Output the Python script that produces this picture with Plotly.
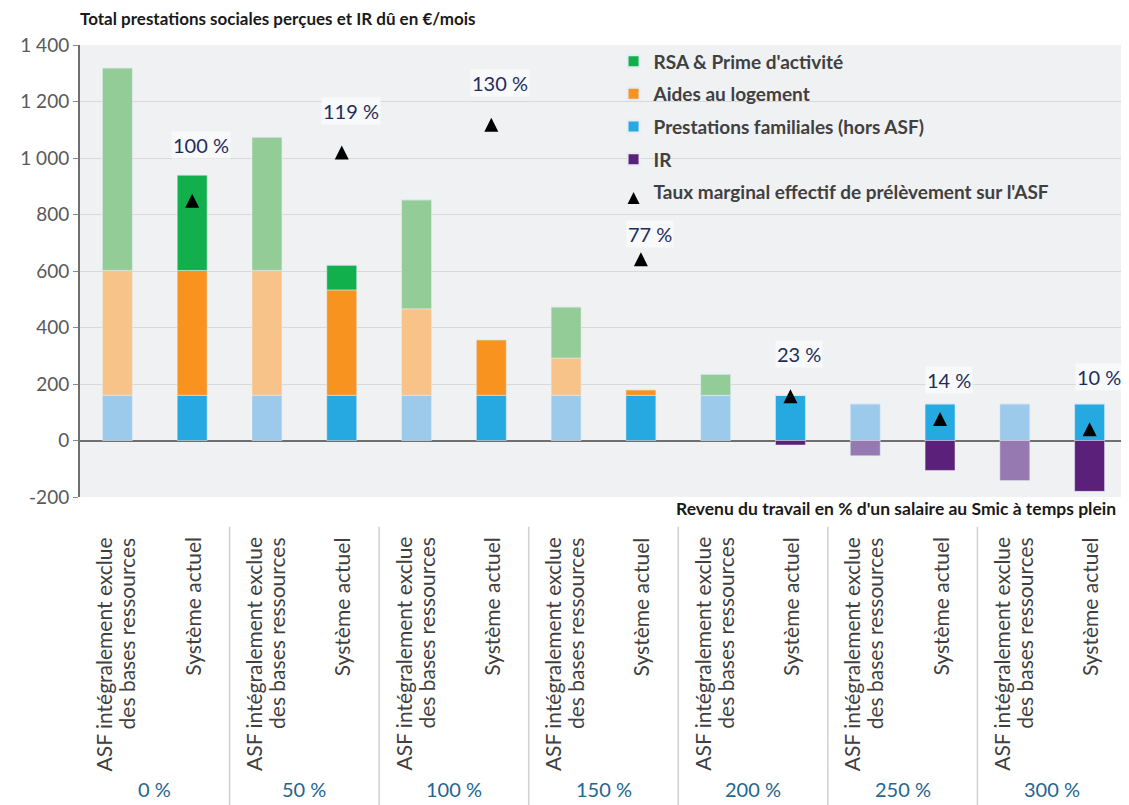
import plotly.graph_objects as go

# ---------------- data ----------------
groups = ["0 %", "50 %", "100 %", "150 %", "200 %", "250 %", "300 %"]
scenarios = ["ASF intégralement exclue<br>des bases ressources", "Système actuel"]

pf_asf = [160, 160, 160, 160, 160, 130, 130]
pf_sys = [160, 160, 160, 160, 160, 130, 130]
al_asf = [442, 442, 306, 132, 0, 0, 0]
al_sys = [442, 373, 197, 20, 0, 0, 0]
rsa_asf = [717, 472, 386, 181, 75, 0, 0]
rsa_sys = [338, 88, 0, 0, 0, 0, 0]
ir_asf = [0, 0, 0, 0, 0, -54, -142]
ir_sys = [0, 0, 0, 0, -16, -106, -180]
tmep_sys = [100, 119, 130, 77, 23, 14, 10]
tmep_labels = ["100 %", "119 %", "130 %", "77 %", "23 %", "14 %", "10 %"]

y_ticks = [-200, 0, 200, 400, 600, 800, 1000, 1200, 1400]
y_ticktext = ["-200", "0", "200", "400", "600", "800", "1 000", "1 200", "1 400"]

# ---------------- style ----------------
FONT = "Lato"
TRI = 14                        # arrow-up marker: TRI px wide and tall, tip at the point
label_shift_px = [s - TRI // 2 for s in [56, 42, 42, 25, 42, 39, 52]]
dark = dict(rsa="#12b04c", al="#f7931e", pf="#25a9e0", ir="#5b2079")
light = dict(rsa="#94cc97", al="#f7c388", pf="#9ccaea", ir="#9679b0")
names = dict(rsa="RSA & Prime d'activité", al="Aides au logement",
             pf="Prestations familiales (hors ASF)", ir="IR")
rank = dict(rsa=1, al=2, pf=3, ir=4)

n = len(groups)
x_asf = [2 * i for i in range(n)]
x_sys = [2 * i + 1 for i in range(n)]

series = [("pf", pf_asf, pf_sys), ("al", al_asf, al_sys),
          ("rsa", rsa_asf, rsa_sys), ("ir", ir_asf, ir_sys)]

fig = go.Figure()
for key, va, vs in series:
    fig.add_trace(go.Bar(x=x_asf, y=va, width=0.4, marker_color=light[key],
                         showlegend=False, legendgroup=key, hoverinfo="skip"))
    fig.add_trace(go.Bar(x=x_sys, y=vs, width=0.4, marker_color=dark[key],
                         name=names[key], legendgroup=key, legendrank=rank[key]))

fig.add_trace(go.Scatter(x=x_sys, y=tmep_sys, yaxis="y2", mode="markers",
                         marker=dict(symbol="arrow-up", size=TRI, color="black"),
                         name="Taux marginal effectif de prélèvement sur l'ASF",
                         legendgroup="tmep", legendrank=5))

annotations = []
line_shifts = [-14, 9]
for i in range(n):
    annotations.append(dict(x=x_sys[i], y=tmep_sys[i], xref="x", yref="y2",
                            text=tmep_labels[i], showarrow=False, xshift=9,
                            yshift=label_shift_px[i], yanchor="middle",
                            bgcolor="#f8f9fa",
                            font=dict(family=FONT, size=20, color="#1f2d5c")))
    # category labels (rotated), one annotation per text line
    asf_lines = scenarios[0].split("<br>")
    for ln, dx in zip(asf_lines, line_shifts):
        annotations.append(dict(x=x_asf[i], y=0, xref="x", yref="paper", yshift=-38,
                                xshift=dx, text=ln, textangle=-90, showarrow=False,
                                xanchor="center", yanchor="top",
                                font=dict(family=FONT, size=21, color="#404040")))
    annotations.append(dict(x=x_sys[i], y=0, xref="x", yref="paper", yshift=-38,
                            text=scenarios[1], textangle=-90, showarrow=False,
                            xanchor="center", yanchor="top",
                            font=dict(family=FONT, size=21, color="#404040")))
    annotations.append(dict(x=(x_asf[i] + x_sys[i]) / 2, y=0, xref="x", yref="paper",
                            yshift=-292, text=groups[i], showarrow=False,
                            xanchor="center", yanchor="middle",
                            font=dict(family=FONT, size=20, color="#1f6691")))

annotations.append(dict(x=1, y=0, xref="paper", yref="paper", yshift=-11, xshift=-9,
                        text="<b>Revenu du travail en % d'un salaire au Smic à temps plein</b>",
                        showarrow=False, xanchor="right", yanchor="middle",
                        font=dict(family=FONT, size=17.5, color="#1a1a1a")))
annotations.append(dict(x=0, y=1, xref="paper", yref="paper", yshift=27, xshift=-2,
                        text="<b>Total prestations sociales perçues et IR dû en €/mois</b>",
                        showarrow=False, xanchor="left", yanchor="middle",
                        font=dict(family=FONT, size=17, color="#1a1a1a")))

shapes = []
for i in range(n - 1):
    shapes.append(dict(type="line", xref="x", yref="paper",
                       x0=x_sys[i] + 0.5, x1=x_sys[i] + 0.5, y0=-0.066, y1=-0.70,
                       line=dict(color="#d0d0d0", width=1.5)))

# y2 range maps the rate onto the bar scale; shifted so the triangle centre sits on the value
y2_lo, y2_hi = -16.73, 161.4
d = (TRI / 2) / 452 * (y2_hi - y2_lo)

fig.update_layout(
    width=1121, height=797,
    margin=dict(l=72, r=2, t=37, b=308),
    barmode="relative",
    paper_bgcolor="white",
    plot_bgcolor="#f0f1f3",
    font=dict(family=FONT, color="#404040"),
    xaxis=dict(range=[-0.5, 13.5], showticklabels=False, showgrid=False,
               zeroline=False, showline=False, ticks=""),
    yaxis=dict(range=[-200, 1400], tickvals=y_ticks, ticktext=y_ticktext,
               showgrid=True, gridcolor="#d9d9d9", gridwidth=1,
               zeroline=True, zerolinecolor="#6f6f6f", zerolinewidth=2,
               showline=True, linecolor="#6f6f6f", linewidth=2,
               ticks="outside", ticklen=5, tickcolor="#8a8a8a",
               tickfont=dict(family=FONT, size=19, color="#595959")),
    yaxis2=dict(range=[y2_lo - d, y2_hi - d], overlaying="y", visible=False),
    legend=dict(x=0.5096, y=1.006, xanchor="left", yanchor="top",
                bgcolor="rgba(0,0,0,0)", traceorder="grouped", tracegroupgap=5,
                font=dict(family=FONT, size=19, color="#404040", weight="bold"),
                itemsizing="constant"),
    annotations=annotations,
    shapes=shapes,
    showlegend=True,
)

fig.write_html("out.html")
